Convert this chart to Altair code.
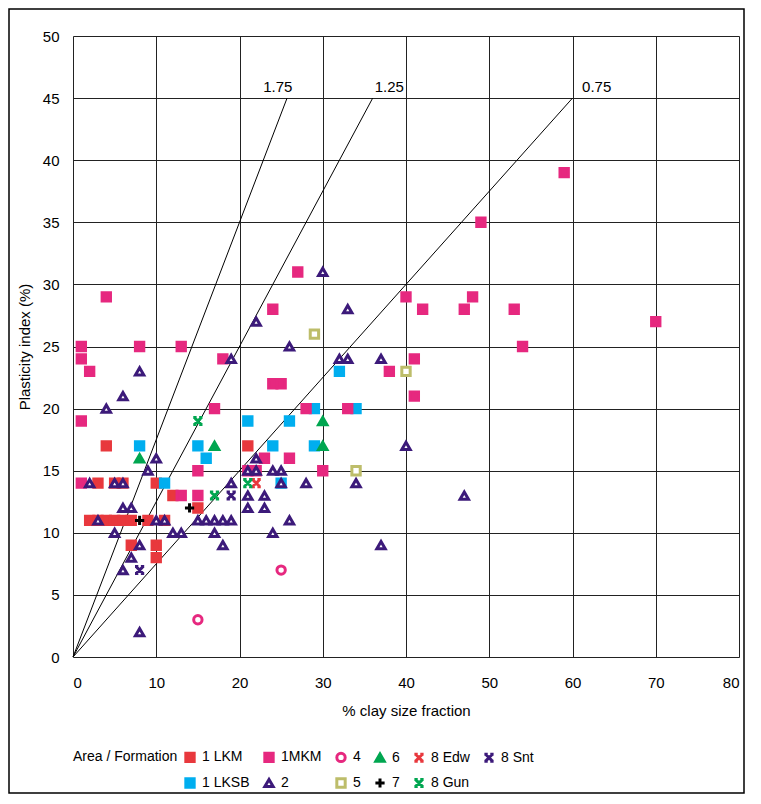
import altair as alt
import pandas as pd

FONT = "Liberation Sans Narrow, Arial Narrow, Liberation Sans, Arial, sans-serif"

# ---- data: (clay %, plasticity index %) per area / formation ----
lkm_x = [4, 21, 3, 5, 6, 10, 12, 15, 2, 3, 4, 5, 6, 7, 9, 11, 7, 10, 10]
lkm_y = [17, 17, 14, 14, 14, 14, 13, 12, 11, 11, 11, 11, 11, 11, 11, 11, 9, 9, 8]

lksb_x = [8, 15, 16, 11, 21, 24, 26, 29, 34, 29, 32, 25]
lksb_y = [17, 17, 16, 14, 19, 17, 19, 20, 20, 17, 23, 14]

mkm_x = [1, 1, 2, 4, 8, 13, 18, 1, 17, 1, 13, 15, 15, 21, 22, 23, 26, 24, 25, 24,
         27, 28, 33, 30, 38, 40, 41, 41, 42, 47, 48, 49, 53, 54, 59, 70]
mkm_y = [25, 24, 23, 29, 25, 25, 24, 19, 20, 14, 13, 15, 13, 15, 15, 16, 16, 22, 22, 28,
         31, 20, 20, 15, 23, 29, 24, 21, 28, 28, 29, 35, 28, 25, 39, 27]

f4_x = [15, 25]
f4_y = [3, 7]

f5_x = [29, 40, 34]
f5_y = [26, 23, 15]

f6_x = [8, 17, 30, 30]
f6_y = [16, 17, 19, 17]

f2_x = [2, 3, 4, 5, 6, 5, 6, 6, 7, 6, 7, 8, 8, 8, 9, 10, 10, 11, 12, 13,
        15, 16, 17, 18, 19, 17, 18, 19, 19, 21, 22, 22, 21, 23, 21, 23, 24, 25, 25, 22,
        26, 26, 24, 28, 30, 33, 32, 33, 37, 34, 37, 40, 47]
f2_y = [14, 11, 20, 14, 14, 10, 21, 12, 12, 7, 8, 9, 23, 2, 15, 16, 11, 11, 10, 10,
        11, 11, 11, 11, 11, 10, 9, 14, 24, 15, 15, 16, 13, 13, 12, 12, 15, 15, 14, 27,
        25, 11, 10, 14, 31, 28, 24, 24, 24, 14, 9, 17, 13]

f7_x = [8, 14]
f7_y = [11, 12]

edw_x = [22]
edw_y = [14]
gun_x = [15, 17, 21]
gun_y = [19, 13, 14]
snt_x = [8, 19]
snt_y = [7, 13]

# activity lines and their labels
activity = [1.75, 1.25, 0.75]
activity_label_x = [24.6, 38.0, 62.9]

# ---- build table (draw order: filled squares first) ----
groups = [
    ("1 LKM", lkm_x, lkm_y), ("1 LKSB", lksb_x, lksb_y), ("1MKM", mkm_x, mkm_y),
    ("5", f5_x, f5_y), ("4", f4_x, f4_y), ("6", f6_x, f6_y), ("2", f2_x, f2_y),
    ("7", f7_x, f7_y), ("8 Edw", edw_x, edw_y), ("8 Gun", gun_x, gun_y),
    ("8 Snt", snt_x, snt_y),
]
rows = []
for name, xs, ys in groups:
    for a, b in zip(xs, ys):
        rows.append({"series": name, "clay": a, "pi": b})
df = pd.DataFrame(rows)
df["order"] = range(len(df))

RED = "#E8383D"
CYAN = "#00AEEF"
PINK = "#E6287F"
PURPLE = "#3C1A7A"
OLIVE = "#BDBD6A"
GREEN = "#00A650"

XPATH = ("M-0.7,-0.7L0.7,0.7M-0.7,0.7L0.7,-0.7"
         "M-1.1,-0.85L-0.3,-0.85M0.3,-0.85L1.1,-0.85"
         "M-1.1,0.85L-0.3,0.85M0.3,0.85L1.1,0.85")
PLUS = "M-1.1,0L1.1,0M0,-1.1L0,1.1"

domain = ["1 LKM", "1MKM", "4", "6", "8 Edw", "8 Snt",
          "1 LKSB", "2", "5", "7", "8 Gun"]
stroke_range = [RED, PINK, PINK, GREEN, RED, PURPLE,
                CYAN, PURPLE, OLIVE, "#000000", GREEN]
fill_range = [RED, PINK, "#ffffff", GREEN, "transparent", "transparent",
              CYAN, "#ffffff", "#ffffff", "transparent", "transparent"]
shape_range = ["square", "square", "circle", "triangle-up", XPATH, XPATH,
               "square", "triangle-up", "square", PLUS, XPATH]
size_range = [70, 70, 55, 95, 80, 80, 70, 95, 55, 80, 80]

legend = alt.Legend(
    title="Area / Formation", orient="none", legendX=0, legendY=714,
    direction="horizontal", columns=6, titleOrient="left", titleAnchor="start",
    titleFont=FONT, titleFontSize=14, titleFontWeight="normal", titleColor="#000",
    titlePadding=5, labelFont=FONT, labelFontSize=14, labelColor="#000",
    labelOffset=5, symbolStrokeWidth=3, columnPadding=8,
    rowPadding=4,
)

xscale = alt.Scale(domain=[0, 80], nice=False, zero=True)
yscale = alt.Scale(domain=[0, 50], nice=False)

points = alt.Chart(df).mark_point(opacity=1).encode(
    x=alt.X("clay:Q", scale=xscale,
            axis=alt.Axis(title="% clay size fraction", values=list(range(0, 81, 10)),
                          grid=True, gridColor="#222", gridWidth=1, ticks=False,
                          domain=False, labelPadding=18, labelFont=FONT,
                          labelFontSize=15, labelColor="#000", titleFont=FONT,
                          titleFontSize=15, titleFontWeight="normal", titleColor="#000",
                          titlePadding=13)),
    y=alt.Y("pi:Q", scale=yscale,
            axis=alt.Axis(title="Plasticity index (%)", values=list(range(0, 51, 5)),
                          grid=True, gridColor="#222", gridWidth=1, ticks=False,
                          domain=False, labelPadding=14, labelFont="Liberation Sans",
                          labelFontSize=15, labelColor="#000", titleFont=FONT,
                          titleFontSize=15, titleFontWeight="normal", titleColor="#000",
                          titlePadding=10)),
    stroke=alt.Stroke("series:N", scale=alt.Scale(domain=domain, range=stroke_range),
                      legend=legend),
    fill=alt.Fill("series:N", scale=alt.Scale(domain=domain, range=fill_range),
                  legend=legend),
    shape=alt.Shape("series:N", scale=alt.Scale(domain=domain, range=shape_range),
                    legend=legend),
    size=alt.Size("series:N", scale=alt.Scale(domain=domain, range=size_range),
                  legend=legend),
    strokeWidth=alt.value(3),
    order=alt.Order("order:Q"),
)

lines_df = pd.DataFrame(
    [{"a": str(a), "clay": 0.0, "pi": 0.0} for a in activity]
    + [{"a": str(a), "clay": 45.0 / a, "pi": 45.0} for a in activity]
)
lines = alt.Chart(lines_df).mark_line(color="black", strokeWidth=1).encode(
    x=alt.X("clay:Q", scale=xscale), y=alt.Y("pi:Q", scale=yscale),
    detail="a:N",
)

labels_df = pd.DataFrame({"clay": activity_label_x, "pi": [45] * 3,
                          "txt": [f"{a:.2f}" for a in activity]})
labels = alt.Chart(labels_df).mark_text(
    font=FONT, fontSize=15, baseline="bottom", dy=-3, color="black", align="center"
).encode(x=alt.X("clay:Q", scale=xscale), y=alt.Y("pi:Q", scale=yscale), text="txt:N")

frame = alt.Chart(pd.DataFrame({"k": [0]})).mark_rect(
    fill="transparent", stroke="black", strokeWidth=1.5
).encode(x=alt.value(-64), x2=alt.value(671), y=alt.value(-27), y2=alt.value(757))

chart = alt.layer(lines, labels, points, frame).properties(
    width=666, height=621,
    autosize=alt.AutoSizeParams(type="none"),
    padding={"left": 65, "top": 28, "right": 6, "bottom": 138},
).configure_view(stroke="black", strokeWidth=1.5).configure(background="white")

chart.save("out.html", embed_options={"renderer": "svg", "actions": False})
